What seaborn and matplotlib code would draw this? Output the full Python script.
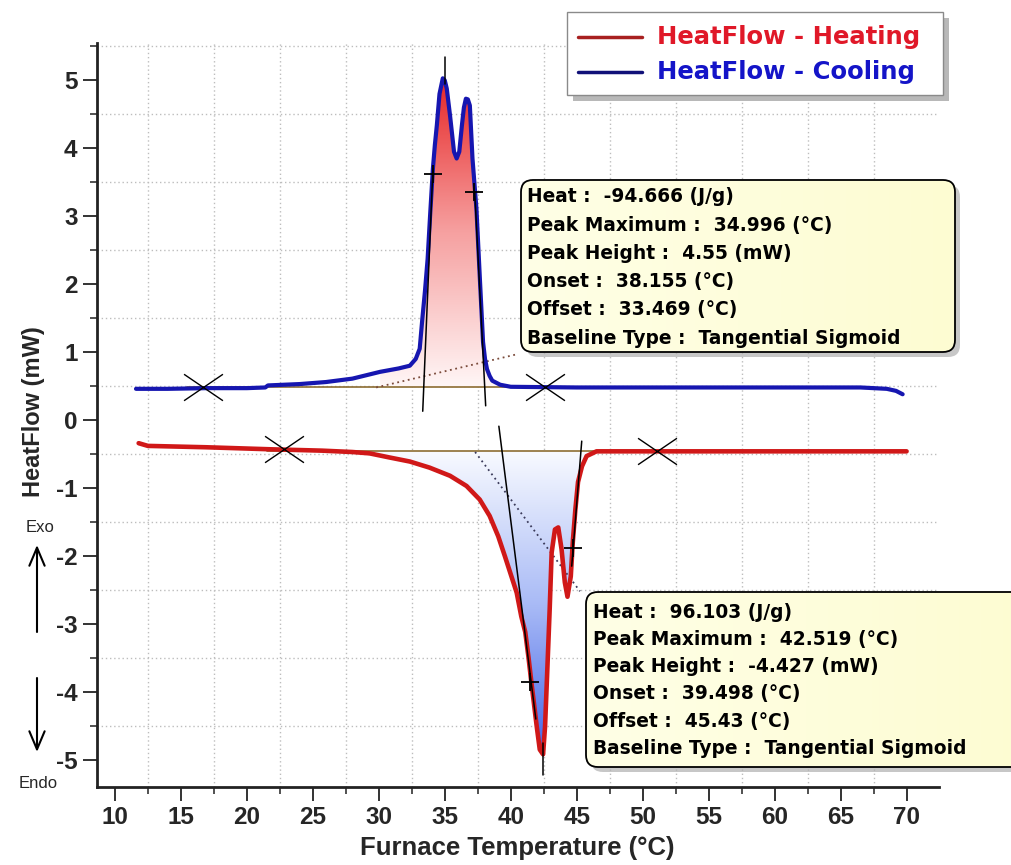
import numpy as np
import pandas as pd
import matplotlib.pyplot as plt
import seaborn as sns
from matplotlib.patches import PathPatch, FancyBboxPatch, Rectangle
from matplotlib.path import Path
from matplotlib.colors import LinearSegmentedColormap
from matplotlib.ticker import MultipleLocator, FuncFormatter

# --- data ---
cool_T = [11.6, 14.0, 17.0, 20.0, 21.4, 21.6, 24.0, 26.0, 28.0, 30.1, 31.5, 32.35,
          32.8, 33.1, 33.3, 33.5, 33.7, 33.9, 34.1, 34.25, 34.4, 34.6, 34.85, 35.0,
          35.15, 35.4, 35.7, 35.9, 36.1, 36.3, 36.45, 36.6, 36.75, 36.9, 37.1, 37.4,
          37.65, 37.9, 38.05, 38.2, 38.4, 38.6, 39.2, 40.0, 45.0, 55.0, 66.5, 67.5,
          68.5, 69.2, 69.7]
cool_HF = [0.46, 0.46, 0.47, 0.47, 0.48, 0.51, 0.53, 0.56, 0.61, 0.71, 0.76, 0.80,
           0.90, 1.05, 1.49, 1.90, 2.37, 3.05, 3.70, 4.05, 4.34, 4.80, 5.03, 5.00,
           4.88, 4.48, 3.95, 3.85, 3.95, 4.34, 4.60, 4.73, 4.72, 4.63, 3.85, 3.11,
           2.12, 1.15, 0.90, 0.75, 0.65, 0.58, 0.52, 0.49, 0.48, 0.48, 0.48, 0.47,
           0.46, 0.43, 0.38]

heat_T = [11.8, 12.5, 16.9, 21.8, 25.7, 28.0, 29.3, 30.8, 32.35, 33.85, 35.4, 36.65,
          37.65, 38.4, 39.05, 39.55, 40.05, 40.45, 40.8, 41.1, 41.35, 41.6, 41.97,
          42.2, 42.45, 42.6, 42.75, 42.95, 43.1, 43.35, 43.6, 43.85, 44.1, 44.3, 44.55,
          44.7, 44.9, 45.1, 45.4, 45.75, 46.5, 50.0, 60.0, 70.0]
heat_HF = [-0.34, -0.38, -0.40, -0.43, -0.45, -0.47, -0.49, -0.55, -0.61, -0.70, -0.82,
           -0.97, -1.17, -1.41, -1.71, -2.00, -2.30, -2.54, -2.89, -3.12, -3.50, -3.92,
           -4.51, -4.85, -4.92, -4.51, -3.78, -2.79, -1.95, -1.61, -1.58, -1.90, -2.39,
           -2.60, -2.30, -1.80, -1.31, -0.91, -0.68, -0.53, -0.46, -0.46, -0.46, -0.46]

# peak analysis overlays (baselines, tangents, markers)
cool_base_y = 0.48
cool_base_x = [15.5, 42.8]
cool_sig_x, cool_sig_y = [29.8, 40.5], [0.48, 0.97]
cool_tan1 = ([33.33, 34.1], [0.13, 3.70])
cool_tan2 = ([38.1, 37.27], [0.21, 3.36])
cool_peak = ([34.996, 34.996], [4.95, 5.35])
cool_plus = ([34.1, 37.25], [3.62, 3.36])
cool_cross = ([16.7, 42.6], [0.48, 0.48])

heat_base_y = -0.455
heat_base_x = [21.5, 52.5]
heat_sig_x, heat_sig_y = [37.3, 45.25], [-0.47, -2.52]
heat_tan1 = ([39.1, 41.9], [-0.09, -4.40])
heat_tan2 = ([45.38, 44.62], [-0.31, -2.15])
heat_peak = ([42.48, 42.48], [-4.75, -5.22])
heat_plus = ([41.45, 44.7], [-3.85, -1.89])
heat_cross = ([22.8, 51.1], [-0.43, -0.45])

box_cool = ["Heat :  -94.666 (J/g)", "Peak Maximum :  34.996 (°C)", "Peak Height :  4.55 (mW)",
            "Onset :  38.155 (°C)", "Offset :  33.469 (°C)", "Baseline Type :  Tangential Sigmoid"]
box_heat = ["Heat :  96.103 (J/g)", "Peak Maximum :  42.519 (°C)", "Peak Height :  -4.427 (mW)",
            "Onset :  39.498 (°C)", "Offset :  45.43 (°C)", "Baseline Type :  Tangential Sigmoid"]

cool = pd.DataFrame({'T': cool_T, 'HF': cool_HF})
heat = pd.DataFrame({'T': heat_T, 'HF': heat_HF})

sns.set_style('white')
plt.rcParams['font.family'] = ['Liberation Sans', 'DejaVu Sans']
plt.rcParams['font.weight'] = 'bold'
plt.rcParams['axes.unicode_minus'] = False

RED = '#d01818'
BLUE = '#1616b0'

fig = plt.figure(figsize=(10.11, 8.65), dpi=100)
ax = fig.add_axes([0.0959, 0.0902, 0.8328, 0.8601])


def gradient_fill(ax, df, lo, hi, base, cmap, ytop, ybot):
    sub = df[(df['T'] >= lo) & (df['T'] <= hi)]
    poly = ax.fill_between(sub['T'], sub['HF'], base, facecolor='none', edgecolor='none')
    patch = PathPatch(poly.get_paths()[0], transform=ax.transData, fc='none', ec='none')
    ax.add_patch(patch)
    grad = np.linspace(0, 1, 256).reshape(-1, 1)
    im = ax.imshow(grad, extent=[lo, hi, ybot, ytop], origin='lower', aspect='auto',
                   cmap=cmap, zorder=1, interpolation='bilinear')
    im.set_clip_path(patch)


reds = LinearSegmentedColormap.from_list('r', ['#fff6f6', '#f6a0a0', '#e62626'])
blues = LinearSegmentedColormap.from_list('b', ['#4262e6', '#a8baf6', '#f8faff'])
gradient_fill(ax, cool, 29.5, 40.0, cool_base_y, reds, 5.05, cool_base_y)
gradient_fill(ax, heat, 28.0, 46.5, heat_base_y, blues, heat_base_y, -5.0)

# baselines
ax.plot(cool_base_x, [cool_base_y] * 2, color='#8c6d32', lw=1.2, zorder=2)
ax.plot(heat_base_x, [heat_base_y] * 2, color='#8c6d32', lw=1.2, zorder=2)
ax.plot(cool_sig_x, cool_sig_y, color='#7a4a3a', lw=1.3, ls=(0, (1, 2)), zorder=2)
ax.plot(heat_sig_x, heat_sig_y, color='#3a3a5a', lw=1.3, ls=(0, (1, 2)), zorder=2)

# curves
sns.lineplot(data=heat, x='T', y='HF', ax=ax, color=RED, lw=3.3, sort=False,
             estimator=None, zorder=3)
sns.lineplot(data=cool, x='T', y='HF', ax=ax, color=BLUE, lw=3.0, sort=False,
             estimator=None, zorder=3)

# tangents and markers
for seg in [cool_tan1, cool_tan2, cool_peak, heat_tan1, heat_tan2, heat_peak]:
    ax.plot(seg[0], seg[1], color='black', lw=1.1, zorder=4)
ax.plot(*cool_plus, ls='none', marker='+', ms=13, mew=1.3, color='black', zorder=4)
ax.plot(*heat_plus, ls='none', marker='+', ms=13, mew=1.3, color='black', zorder=4)
xmark = Path([(-1, -0.68), (1, 0.68), (-1, 0.68), (1, -0.68)],
             [Path.MOVETO, Path.LINETO, Path.MOVETO, Path.LINETO])
for cx in [cool_cross, heat_cross]:
    ax.plot(*cx, ls='none', marker=xmark, ms=28, mew=1.0, mec='black', mfc='none', zorder=4)

# axes styling
ax.set_xlim(8.64, 72.45)
ax.set_ylim(-5.4, 5.55)
ax.set_xlabel('')
ax.set_ylabel('')
ax.xaxis.set_major_locator(MultipleLocator(5))
ax.xaxis.set_minor_locator(MultipleLocator(2.5))
ax.yaxis.set_major_locator(MultipleLocator(1))
ax.yaxis.set_minor_locator(MultipleLocator(0.5))
fmt = FuncFormatter(lambda v, p: f'{v:g}')
ax.xaxis.set_major_formatter(fmt)
ax.yaxis.set_major_formatter(fmt)
ax.tick_params(which='both', bottom=True, left=True, direction='out', color='#333333')
ax.tick_params(which='major', length=10, width=1.4, labelsize=17.5, pad=4)
ax.tick_params(which='minor', length=5, width=1.2)
for s in ['top', 'right']:
    ax.spines[s].set_visible(False)
for s in ['left', 'bottom']:
    ax.spines[s].set_color('#222222')
    ax.spines[s].set_linewidth(2)
ax.grid(False)
ax.grid(which='minor', ls=(0, (1, 2)), color='#bdbdbd', lw=1)

# overlay in pixel coordinates (y down)
ov = fig.add_axes([0, 0, 1, 1])
ov.set_zorder(10)
ov.patch.set_visible(False)

ov.text(517, 848, 'Furnace Temperature (°C)', fontsize=18.5, ha='center', va='center')
ov.text(34, 412, 'HeatFlow (mW)', fontsize=17, rotation=90, ha='center', va='center')
ov.text(40, 527, 'Exo', fontsize=12, fontweight='normal', ha='center', va='center')
ov.text(38, 783, 'Endo', fontsize=12, fontweight='normal', ha='center', va='center')
arr = dict(arrowstyle='->,head_length=1.3,head_width=0.55', lw=1.5, color='black',
           mutation_scale=10, shrinkA=0, shrinkB=0)
ov.annotate('', xy=(37, 545), xytext=(37, 632), arrowprops=arr)
ov.annotate('', xy=(37, 752), xytext=(37, 678), arrowprops=arr)

# legend
ov.add_patch(Rectangle((573, 18), 376, 83, fc='#b8b8b8', ec='none', zorder=1))
ov.add_patch(Rectangle((567, 12), 376, 83, fc='white', ec='#8a8a8a', lw=1, zorder=2))
ov.plot([578, 642], [37, 37], color='#a82020', lw=2.5, zorder=3)
ov.plot([578, 642], [72, 72], color='#101078', lw=2.5, zorder=3)
ov.text(657, 37, 'HeatFlow - Heating', color='#e01828', fontsize=17.5,
        family='DejaVu Sans', ha='left', va='center', zorder=3)
ov.text(657, 72, 'HeatFlow - Cooling', color='#1414c8', fontsize=17.5,
        family='DejaVu Sans', ha='left', va='center', zorder=3)

yellow = LinearSegmentedColormap.from_list('y', ['#ffffe6', '#fdfcd2'])


def info_box(x0, y0, w, h, lines, tx, ty0, dy):
    style = 'round,pad=0,rounding_size=12'
    ov.add_patch(FancyBboxPatch((x0 + 5, y0 + 5), w, h, boxstyle=style,
                                fc='#b0b0b0', ec='none', alpha=0.7, zorder=1))
    face = FancyBboxPatch((x0, y0), w, h, boxstyle=style, fc='white', ec='none', zorder=2)
    ov.add_patch(face)
    im = ov.imshow(np.linspace(0, 1, 256).reshape(1, -1), extent=[x0, x0 + w, y0 + h, y0],
                   cmap=yellow, aspect='auto', interpolation='bilinear', zorder=3)
    im.set_clip_path(face)
    ov.add_patch(FancyBboxPatch((x0, y0), w, h, boxstyle=style,
                                fc='none', ec='black', lw=1.3, zorder=4))
    for i, line in enumerate(lines):
        ov.text(tx, ty0 + i * dy, line, fontsize=13.4, family='DejaVu Sans',
                color='black', ha='left', va='center', zorder=5)


info_box(521, 180, 434, 172, box_cool, 527, 197, 28.2)
info_box(586, 592, 440, 175, box_heat, 593, 612, 27.3)

ov.set_xlim(0, 1011)
ov.set_ylim(865, 0)
ov.axis('off')

fig.savefig('out.png', dpi=100)
